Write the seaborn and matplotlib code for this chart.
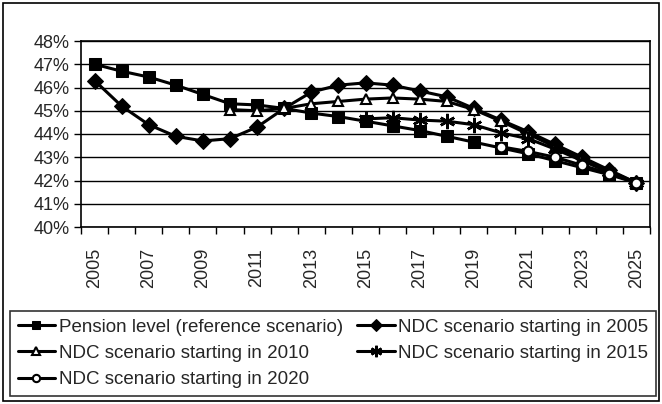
import matplotlib
matplotlib.use("Agg")
import matplotlib.pyplot as plt
import seaborn as sns
from matplotlib.patches import Rectangle
from matplotlib.ticker import FixedLocator, FuncFormatter

# values (percent)
years = list(range(2005, 2026))
pension = [47.0, 46.7, 46.45, 46.1, 45.7, 45.3, 45.25, 45.1, 44.9, 44.75, 44.55,
           44.35, 44.15, 43.9, 43.65, 43.4, 43.15, 42.85, 42.55, 42.25, 41.9]
ndc_2005 = [46.3, 45.2, 44.4, 43.9, 43.7, 43.8, 44.3, 45.1, 45.8, 46.1, 46.2,
            46.1, 45.85, 45.6, 45.1, 44.6, 44.1, 43.55, 43.0, 42.45, 41.9]
ndc_2010 = [45.05, 45.0, 45.1, 45.3, 45.4, 45.5, 45.55, 45.5, 45.4, 45.05, 44.55,
            44.0, 43.45, 42.95, 42.4, 41.9]
ndc_2015 = [44.65, 44.7, 44.6, 44.55, 44.4, 44.05, 43.8, 43.35, 42.85, 42.35, 41.9]
ndc_2020 = [43.45, 43.25, 43.0, 42.65, 42.3, 41.9]

labels = [
    "Pension level (reference scenario)",
    "NDC scenario starting in 2005",
    "NDC scenario starting in 2010",
    "NDC scenario starting in 2015",
    "NDC scenario starting in 2020",
]
year_labels = [str(y) for y in range(2005, 2026, 2)]
y_ticks = list(range(40, 49))

sns.set_theme(style="white")
plt.rcParams["font.family"] = ["Liberation Sans", "DejaVu Sans"]

fig = plt.figure(figsize=(6.62, 4.04), dpi=100)
ax = fig.add_axes([81 / 662, 1 - 227 / 404, (650 - 81) / 662, (227 - 41) / 404])

series = [
    (pension, years, dict(marker="s", markerfacecolor="black", markersize=8)),
    (ndc_2005, years, dict(marker="D", markerfacecolor="black", markersize=8)),
    (ndc_2010, years[5:], dict(marker="^", markerfacecolor="white", markersize=7,
                                markeredgewidth=1.5)),
    (ndc_2015, years[10:], dict(marker=(6, 2, 0), markersize=11, markeredgewidth=1.8)),
    (ndc_2020, years[15:], dict(marker="o", markerfacecolor="white", markersize=7,
                                markeredgewidth=1.5)),
]
for (vals, xs, mk), lab in zip(series, labels):
    sns.lineplot(x=xs, y=vals, ax=ax, color="black", linewidth=2.2,
                 markeredgecolor="black", label=lab, **mk)

ax.set_xlim(2004.5, 2025.5)
ax.set_ylim(40, 48)
ax.set_yticks(y_ticks)
ax.yaxis.set_major_formatter(FuncFormatter(lambda v, p: f"{v:.0f}%"))
ax.set_xticks([int(s) for s in year_labels])
ax.set_xticklabels(year_labels, rotation=90)
ax.xaxis.set_minor_locator(FixedLocator([y + 0.5 for y in range(2004, 2026)]))
ax.tick_params(axis="x", which="major", length=0, pad=15, labelsize=13)
ax.tick_params(axis="x", which="minor", length=5, width=1, color="black",
               direction="out", bottom=True)
ax.tick_params(axis="y", length=5, width=1, color="black", direction="out",
               left=True, labelsize=13, pad=3)
ax.grid(axis="y", color="black", linewidth=1)
ax.set_xlabel("")
ax.set_ylabel("")
for s in ax.spines.values():
    s.set_color("black")
    s.set_linewidth(1.2)

handles, labs = ax.get_legend_handles_labels()
ax.get_legend().remove()
order = [0, 2, 4, 1, 3]
leg = fig.legend([handles[i] for i in order], [labs[i] for i in order],
                 ncol=2, loc="lower left", mode="expand",
                 bbox_to_anchor=(10 / 662, 1 - 396 / 404, 646 / 662, 95 / 404),
                 frameon=True, fancybox=False, edgecolor="black",
                 fontsize=13.5, handlelength=2.0, handletextpad=0.2,
                 columnspacing=0.1, labelspacing=0.5, borderaxespad=0,
                 borderpad=0.4, markerscale=0.75)
leg.get_frame().set_linewidth(1.2)

fig.patches.append(Rectangle((3 / 662, 3 / 404), 656 / 662, 398 / 404,
                             transform=fig.transFigure, fill=False,
                             edgecolor="black", linewidth=1.2))

fig.savefig("out.png", dpi=100, facecolor="white")
